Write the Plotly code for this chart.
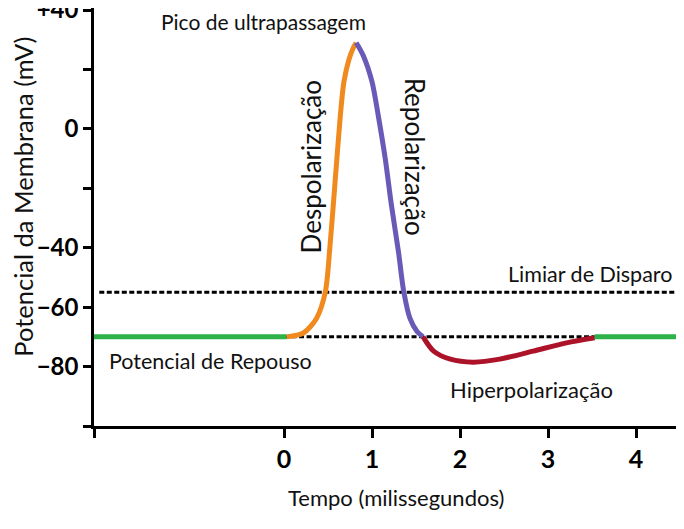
import plotly.graph_objects as go

# membrane potential trace (ms, mV)
rest_left_t = [-2.16, 0.03]
rest_left_v = [-70, -70]
depol_t = [0.03, 0.22, 0.37, 0.47, 0.52, 0.58, 0.64, 0.68, 0.74, 0.79, 0.82]
depol_v = [-70, -68.7, -63.7, -54.7, -40.2, -17.8, 4.6, 15.8, 23.6, 27.5, 29]
repol_t = [0.82, 0.90, 1.0, 1.07, 1.15, 1.22, 1.30, 1.36, 1.43, 1.51, 1.58]
repol_v = [29, 24.7, 15.8, 4.6, -10, -25.6, -41.3, -54.7, -63.7, -68.1, -70]
hyper_t = [1.58, 1.70, 1.89, 2.15, 2.45, 2.83, 3.21, 3.53]
hyper_v = [-70, -74.8, -77.5, -78.5, -77.5, -74.8, -72, -70.3]
rest_right_t = [3.53, 4.46]
rest_right_v = [-70, -70]

threshold_t = [-2.1, 4.5]
threshold_v = [-55, -55]
rest_dash_t = [0, 3.53]
rest_dash_v = [-70, -70]

y_ticks = [-100, -80, -60, -40, -20, 0, 20, 40]
y_ticklabels = ["", "\u221280", "\u221260", "\u221240", "", "0", "", "+40"]
x_ticks = [-2.16, 0, 1, 2, 3, 4]
x_ticklabels = ["", "0", "1", "2", "3", "4"]

GREEN = "rgb(44,178,72)"
ORANGE = "rgb(240,138,30)"
PURPLE = "rgb(104,90,182)"
RED = "rgb(172,18,40)"
FONT = "Lato"

fig = go.Figure()

dash_style = dict(color="black", width=3, dash="5px,2.5px")
fig.add_trace(go.Scatter(x=threshold_t, y=threshold_v, mode="lines", line=dash_style))
fig.add_trace(go.Scatter(x=rest_dash_t, y=rest_dash_v, mode="lines", line=dash_style))

for t, v, c in [(rest_left_t, rest_left_v, GREEN),
                (depol_t, depol_v, ORANGE),
                (repol_t, repol_v, PURPLE),
                (hyper_t, hyper_v, RED),
                (rest_right_t, rest_right_v, GREEN)]:
    fig.add_trace(go.Scatter(x=t, y=v, mode="lines",
                             line=dict(color=c, width=5, shape="spline", smoothing=0.8)))

labels = [
    ("Pico de ultrapassagem", -0.23, 36.3, 0, 21),
    ("Despolarização", 0.30, -12.8, -90, 26),
    ("Repolarização", 1.49, -9.4, 90, 26),
    ("Limiar de Disparo", 3.48, -49, 0, 21.5),
    ("Potencial de Repouso", -0.84, -78.2, 0, 21.5),
    ("Hiperpolarização", 2.81, -87.6, 0, 22),
]
for txt, ax, ay, ang, sz in labels:
    fig.add_annotation(x=ax, y=ay, text=txt, showarrow=False, textangle=ang,
                       font=dict(family=FONT, size=sz, color="#111"))

# axis titles
fig.add_annotation(xref="paper", x=0, xshift=-71, xanchor="center", y=-22.8,
                   text="Potencial da Membrana (mV)", showarrow=False, textangle=-90,
                   font=dict(family=FONT, size=25.5, color="#111"))
fig.add_annotation(x=1.27, yref="paper", y=0, yshift=-71, yanchor="middle",
                   text="Tempo (milissegundos)", showarrow=False,
                   font=dict(family=FONT, size=22, color="#111"))

# page body keeps its default 8px margin, so the figure is sized to fit inside the window
fig.update_layout(
    width=676, height=521,
    margin=dict(l=86, r=4, t=0, b=103),
    plot_bgcolor="white", paper_bgcolor="white",
    showlegend=False,
)
fig.update_xaxes(range=[-2.16, 4.5], showgrid=False, zeroline=False, automargin=False,
                 showline=True, linecolor="black", linewidth=2.5,
                 tickmode="array", tickvals=x_ticks, ticktext=x_ticklabels,
                 ticks="outside", ticklen=9, tickwidth=2.5, tickcolor="black",
                 tickfont=dict(family=FONT, size=25, color="black", weight="bold"))
fig.update_yaxes(range=[-100, 40.7], showgrid=False, zeroline=False, automargin=False,
                 showline=True, linecolor="black", linewidth=2.5,
                 ticklabeloverflow="allow",
                 tickmode="array", tickvals=y_ticks, ticktext=y_ticklabels,
                 ticks="outside", ticklen=8, tickwidth=2.5, tickcolor="black",
                 tickfont=dict(family=FONT, size=24, color="black", weight="bold"))

fig.write_html("out.html")
